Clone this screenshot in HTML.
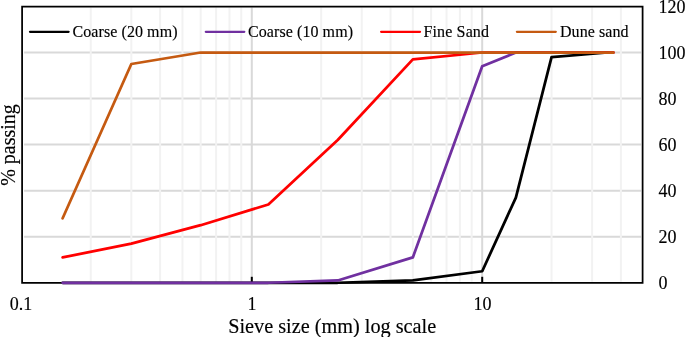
<!DOCTYPE html>
<html><head><meta charset="utf-8"><style>
html,body{margin:0;padding:0;background:#fff;}
body{width:685px;height:337px;overflow:hidden;position:relative;}
svg{position:absolute;left:0;top:0;will-change:transform;}
text{font-family:"Liberation Serif", serif;fill:#000;stroke:#000;stroke-width:0.15px;}
</style></head><body>
<svg width="685" height="337" viewBox="0 0 685 337">
<line x1="24.10" y1="236.70" x2="641.10" y2="236.70" stroke="#D9D9D9" stroke-width="2"/>
<line x1="24.10" y1="190.65" x2="641.10" y2="190.65" stroke="#D9D9D9" stroke-width="2"/>
<line x1="24.10" y1="144.60" x2="641.10" y2="144.60" stroke="#D9D9D9" stroke-width="2"/>
<line x1="24.10" y1="98.55" x2="641.10" y2="98.55" stroke="#D9D9D9" stroke-width="2"/>
<line x1="24.10" y1="52.50" x2="641.10" y2="52.50" stroke="#D9D9D9" stroke-width="2"/>
<line x1="90.76" y1="7.50" x2="90.76" y2="281.75" stroke="#F2F2F2" stroke-width="2"/>
<line x1="131.33" y1="7.50" x2="131.33" y2="281.75" stroke="#F2F2F2" stroke-width="2"/>
<line x1="160.11" y1="7.50" x2="160.11" y2="281.75" stroke="#F2F2F2" stroke-width="2"/>
<line x1="182.44" y1="7.50" x2="182.44" y2="281.75" stroke="#F2F2F2" stroke-width="2"/>
<line x1="200.69" y1="7.50" x2="200.69" y2="281.75" stroke="#F2F2F2" stroke-width="2"/>
<line x1="216.11" y1="7.50" x2="216.11" y2="281.75" stroke="#F2F2F2" stroke-width="2"/>
<line x1="229.47" y1="7.50" x2="229.47" y2="281.75" stroke="#F2F2F2" stroke-width="2"/>
<line x1="241.26" y1="7.50" x2="241.26" y2="281.75" stroke="#F2F2F2" stroke-width="2"/>
<line x1="321.16" y1="7.50" x2="321.16" y2="281.75" stroke="#F2F2F2" stroke-width="2"/>
<line x1="361.73" y1="7.50" x2="361.73" y2="281.75" stroke="#F2F2F2" stroke-width="2"/>
<line x1="390.51" y1="7.50" x2="390.51" y2="281.75" stroke="#F2F2F2" stroke-width="2"/>
<line x1="412.84" y1="7.50" x2="412.84" y2="281.75" stroke="#F2F2F2" stroke-width="2"/>
<line x1="431.09" y1="7.50" x2="431.09" y2="281.75" stroke="#F2F2F2" stroke-width="2"/>
<line x1="446.51" y1="7.50" x2="446.51" y2="281.75" stroke="#F2F2F2" stroke-width="2"/>
<line x1="459.87" y1="7.50" x2="459.87" y2="281.75" stroke="#F2F2F2" stroke-width="2"/>
<line x1="471.66" y1="7.50" x2="471.66" y2="281.75" stroke="#F2F2F2" stroke-width="2"/>
<line x1="551.56" y1="7.50" x2="551.56" y2="281.75" stroke="#F2F2F2" stroke-width="2"/>
<line x1="592.13" y1="7.50" x2="592.13" y2="281.75" stroke="#F2F2F2" stroke-width="2"/>
<line x1="620.91" y1="7.50" x2="620.91" y2="281.75" stroke="#F2F2F2" stroke-width="2"/>
<line x1="251.80" y1="7.50" x2="251.80" y2="281.75" stroke="#D9D9D9" stroke-width="2"/>
<line x1="482.20" y1="7.50" x2="482.20" y2="281.75" stroke="#D9D9D9" stroke-width="2"/>
<path d="M22.1,282.75 L22.1,6.5 L642.6,6.5 L642.6,282.75 Z" fill="none" stroke="#000" stroke-width="1.75" stroke-linejoin="miter"/>
<line x1="251.80" y1="276.8" x2="251.80" y2="282.75" stroke="#000" stroke-width="2"/>
<line x1="482.20" y1="276.8" x2="482.20" y2="282.75" stroke="#000" stroke-width="2"/>
<polyline points="62.64,282.75 131.33,282.75 200.69,282.75 268.36,282.75 337.72,282.75 412.84,280.45 482.20,271.24 515.87,197.56 551.56,57.10 607.55,52.50" fill="none" stroke="#000000" stroke-width="2.75" stroke-linejoin="round" stroke-linecap="round"/>
<polyline points="62.64,282.75 131.33,282.75 200.69,282.75 268.36,282.75 337.72,280.45 412.84,257.42 482.20,66.31 515.87,52.50 551.56,52.50 613.38,52.50" fill="none" stroke="#7030A0" stroke-width="2.75" stroke-linejoin="round" stroke-linecap="round"/>
<polyline points="62.64,257.42 131.33,243.61 200.69,225.19 268.36,204.46 337.72,139.99 412.84,59.41 482.20,52.50 515.87,52.50 551.56,52.50 613.38,52.50" fill="none" stroke="#FF0000" stroke-width="2.75" stroke-linejoin="round" stroke-linecap="round"/>
<polyline points="62.64,218.28 131.33,64.01 200.69,52.50 268.36,52.50 337.72,52.50 412.84,52.50 482.20,52.50 515.87,52.50 551.56,52.50 613.38,52.50" fill="none" stroke="#C55A11" stroke-width="2.75" stroke-linejoin="round" stroke-linecap="round"/>
<g stroke-width="2.25" stroke-linecap="round">
<line x1="30.0" y1="31.8" x2="68.6" y2="31.8" stroke="#000"/>
<line x1="205.8" y1="31.8" x2="244.3" y2="31.8" stroke="#7030A0"/>
<line x1="381.1" y1="31.8" x2="420.0" y2="31.8" stroke="#FF0000"/>
<line x1="516.9" y1="31.8" x2="555.8" y2="31.8" stroke="#C55A11"/>
</g>
<g font-size="16">
<text x="72.5" y="37" textLength="105" lengthAdjust="spacing">Coarse (20 mm)</text>
<text x="248" y="37" textLength="105" lengthAdjust="spacing">Coarse (10 mm)</text>
<text x="423.5" y="37" textLength="65.5" lengthAdjust="spacing">Fine Sand</text>
<text x="560" y="37" textLength="68.5" lengthAdjust="spacing">Dune sand</text>
</g>
<g font-size="18" text-anchor="middle">
<text x="21" y="310">0.1</text>
<text x="252" y="310">1</text>
<text x="482.5" y="310">10</text>
</g>
<g font-size="18" text-anchor="start">
<text x="658.5" y="13">120</text>
<text x="658.5" y="59">100</text>
<text x="658.5" y="105">80</text>
<text x="658.5" y="151">60</text>
<text x="658.5" y="197">40</text>
<text x="658.5" y="243">20</text>
<text x="658.5" y="289">0</text>
</g>
<text font-size="20.25" x="332.2" y="332.5" text-anchor="middle">Sieve size (mm) log scale</text>
<text font-size="20" transform="translate(15,145) rotate(-90)" text-anchor="middle">% passing</text>
</svg>
</body></html>
